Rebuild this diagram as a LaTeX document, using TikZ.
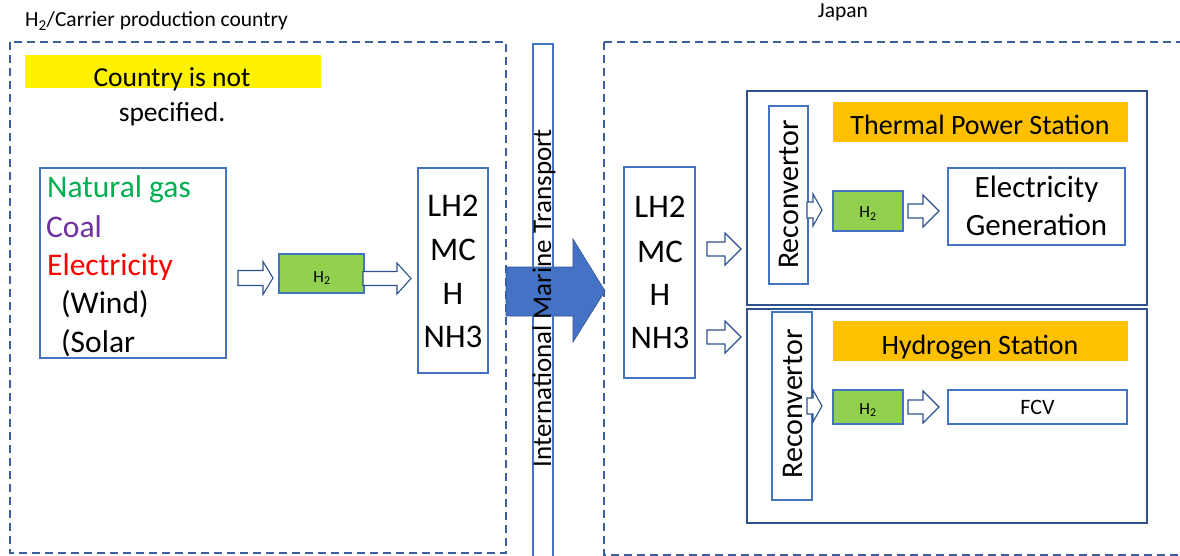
\documentclass[tikz,border=0pt]{standalone}
\usepackage{fontspec}
\setmainfont{Carlito}
\definecolor{boxblue}{HTML}{4472C4}
\definecolor{darkblue}{HTML}{2F528F}
\definecolor{dashblue}{HTML}{3A5F9E}
\definecolor{hgreen}{HTML}{92D050}
\definecolor{gasgreen}{HTML}{00B050}
\definecolor{coalpurple}{HTML}{7030A0}
\definecolor{orangelbl}{HTML}{FFC000}
\newcommand{\fs}[1]{\fontsize{#1}{#1}\selectfont}
% block arrow: x1, x2, yc, shaft half, head half, head start
\newcommand{\blockarr}[6]{%
  \draw[harrow] (#1,#3-#4) -- (#6,#3-#4) -- (#6,#3-#5) -- (#2,#3) -- (#6,#3+#5) -- (#6,#3+#4) -- (#1,#3+#4) -- cycle;}
\tikzset{
  dashbox/.style={draw=dashblue, line width=1.4pt, dash pattern=on 8pt off 5pt},
  sbox/.style={draw=boxblue, line width=1.3pt, fill=white, inner sep=0pt},
  stationbox/.style={draw=darkblue, line width=1.5pt, inner sep=0pt},
  hbox/.style={draw=boxblue, line width=1.3pt, fill=hgreen, inner sep=0pt},
  harrow/.style={draw=darkblue, line width=1.1pt, fill=white, line join=miter},
  lbl/.style={inner sep=0pt, anchor=base},
}
\begin{document}
\begin{tikzpicture}[x=1pt,y=-1pt]
\useasboundingbox (0,0) rectangle (1180,556);
% region boxes
\draw[dashbox] (10,42) rectangle (506,553);
\draw[dashbox] (604,42) -- (1190,42);
\draw[dashbox] (604,42) -- (604,555) -- (1190,555);
\node[lbl, anchor=base west] (t1) at (25,27) {\fs{21.5}H\textsubscript{2}/Carrier production country};
\node[lbl] (t2) at (843,18) {\fs{21.5}Japan};
% yellow note
\fill[yellow] (25,55) rectangle (321,88);
\node[lbl] (c1) at (172,87) {\fs{27.5}Country is not};
\node[lbl] (c2) at (172,122) {\fs{27.5}specified.};
% sources
\node[sbox, minimum width=186pt, minimum height=190pt] (src) at (133,263) {};
\node[lbl, anchor=base west, text=gasgreen] (s1) at (47,197) {\fs{31.5}Natural gas};
\node[lbl, anchor=base west, text=coalpurple] (s2) at (46,237) {\fs{31.5}Coal};
\node[lbl, anchor=base west, text=red] (s3) at (47,275) {\fs{31.5}Electricity};
\node[lbl, anchor=base west] (s4) at (61,313) {\fs{31.5}(Wind)};
\node[lbl, anchor=base west] (s5) at (61,352) {\fs{31.5}(Solar};
% H2 left
\blockarr{238}{273}{278}{7.5}{16.5}{263}
\node[hbox, minimum width=85pt, minimum height=39pt] (h2a) at (321.5,273.5) {};
\node[lbl] at (322,282) {\fs{17}H\textsubscript{2}};
\blockarr{363}{411}{278.5}{7}{15.5}{397}
% carrier left
\node[sbox, minimum width=70pt, minimum height=205pt] (carL) at (453,270.5) {};
\foreach \t/\y in {LH2/217, MC/260, H/304, NH3/347}
  \node[lbl] at (453,\y) {\fs{33}\t};
% big transport arrow
\draw[fill=boxblue, draw=darkblue, line width=0.6pt] (506,267) -- (573,267) -- (573,239) -- (605,291) -- (573,342) -- (573,316) -- (506,316) -- cycle;
\node[draw=boxblue, line width=1.3pt, inner sep=0pt, minimum width=20pt, minimum height=516pt] (bar) at (543,302) {};
\node[rotate=90, inner sep=0pt] (mt) at (544,298) {\fs{27}International Marine Transport};
% carrier right
\node[sbox, minimum width=71pt, minimum height=211pt] (carR) at (659.5,272.5) {};
\foreach \t/\y in {LH2/218, MC/262, H/305, NH3/348}
  \node[lbl] at (660,\y) {\fs{33}\t};
\blockarr{707}{741}{249}{7}{16}{725}
\blockarr{707}{741}{337}{7}{16}{725}
% thermal power station
\node[stationbox, minimum width=400pt, minimum height=214pt] (therm) at (947,198) {};
\node[sbox, minimum width=39pt, minimum height=178pt] (rec1) at (788.5,195) {};
\node[rotate=90, inner sep=0pt] at (789,194.5) {\fs{30}Reconvertor};
\fill[orangelbl] (833,102) rectangle (1128,142);
\node[lbl] (tps) at (980,135) {\fs{28}Thermal Power Station};
\blockarr{807}{822}{210}{8}{16}{813}
\node[hbox, minimum width=70pt, minimum height=40pt] (h2b) at (868,211) {};
\node[lbl] at (868,218) {\fs{17}H\textsubscript{2}};
\blockarr{908}{939}{211}{7}{16}{923}
\node[sbox, minimum width=177pt, minimum height=77pt] (elec) at (1036.5,206.5) {};
\node[lbl] at (1036.5,197) {\fs{31}Electricity};
\node[lbl] at (1036.5,235) {\fs{31}Generation};
% hydrogen station
\node[stationbox, minimum width=400pt, minimum height=214pt] (hydro) at (947,416) {};
\node[sbox, minimum width=40pt, minimum height=188pt] (rec2) at (792,406) {};
\node[rotate=90, inner sep=0pt] at (793,404) {\fs{30}Reconvertor};
\fill[orangelbl] (833,321) rectangle (1128,361);
\node[lbl] (hs) at (980,354) {\fs{28}Hydrogen Station};
\blockarr{807}{822}{406}{8}{16}{813}
\node[hbox, minimum width=70pt, minimum height=34pt] (h2c) at (868,407) {};
\node[lbl] at (868,414) {\fs{17}H\textsubscript{2}};
\blockarr{908}{939}{407}{7}{16}{923}
\node[sbox, minimum width=179pt, minimum height=34pt] (fcv) at (1037.5,407) {};
\node[lbl] at (1037.5,414) {\fs{22}FCV};
\end{tikzpicture}
\end{document}
